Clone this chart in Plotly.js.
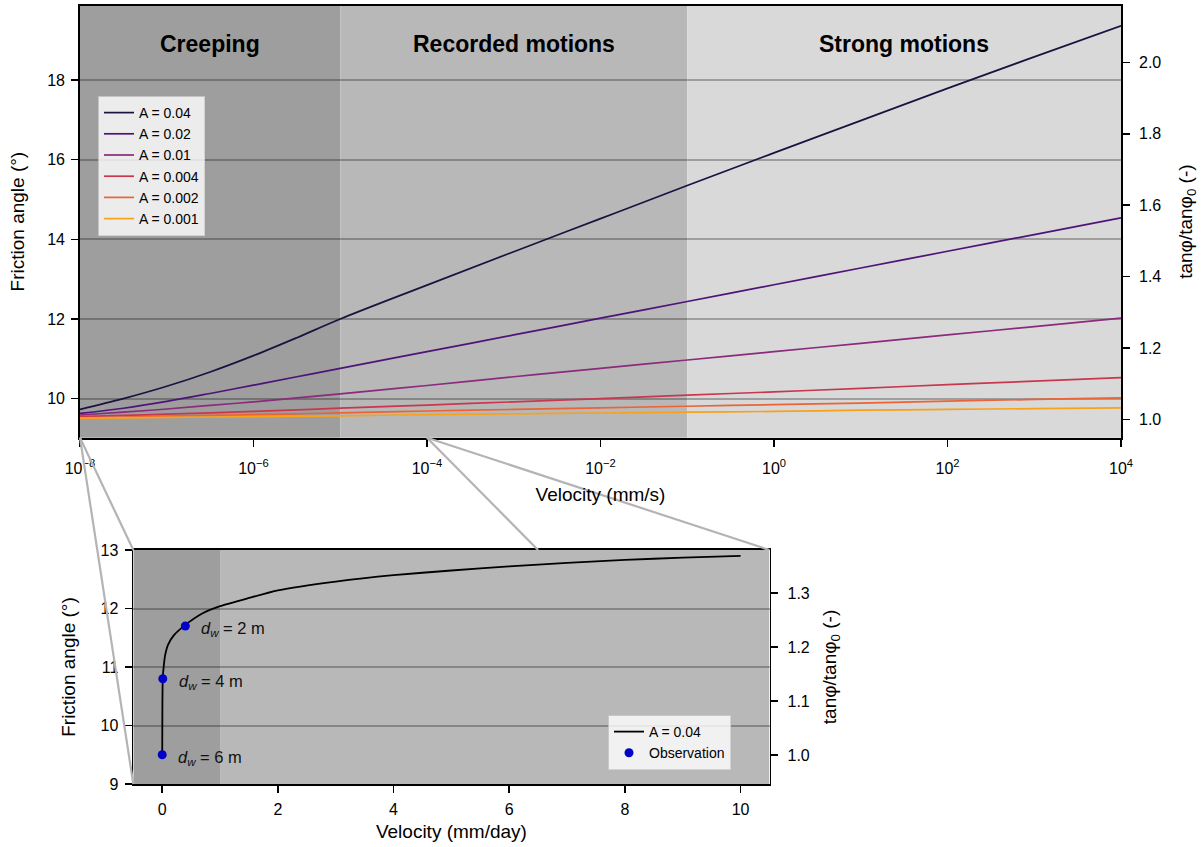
<!DOCTYPE html>
<html>
<head>
<meta charset="utf-8">
<script src="https://cdn.plot.ly/plotly-3.0.1.min.js"></script>
<style>html,body{margin:0;padding:0;background:#fff}</style>
</head>
<body>
<div id="chart" style="width:1203px;height:847px"></div>
<script>
// ---- Rate-dependent friction curves (velocity in mm/s, friction angle in degrees)
const velocity = [1e-8, 3.16e-8, 1e-7, 3.16e-7, 1e-6, 3.16e-6, 1e-5, 1e-4, 1e-3, 1e-2, 1e-1, 1, 10, 100, 1000, 1e4];
const rateLabels = ['A = 0.04', 'A = 0.02', 'A = 0.01', 'A = 0.004', 'A = 0.002', 'A = 0.001'];
const phiA004  = [9.73, 10.0, 10.31, 10.67, 11.08, 11.53, 12.0, 12.85, 13.69, 14.52, 15.35, 16.17, 16.98, 17.79, 18.58, 19.36];
const phiA002  = [9.63, 9.76, 9.93, 10.13, 10.34, 10.55, 10.76, 11.18, 11.60, 12.02, 12.44, 12.86, 13.28, 13.70, 14.12, 14.54];
const phiA001  = [9.59, 9.66, 9.74, 9.83, 9.92, 10.02, 10.12, 10.33, 10.55, 10.76, 10.97, 11.18, 11.39, 11.60, 11.81, 12.02];
const phiA0004 = [9.55, 9.58, 9.61, 9.645, 9.68, 9.72, 9.76, 9.84, 9.92, 10.00, 10.09, 10.17, 10.26, 10.35, 10.44, 10.53];
const phiA0002 = [9.52, 9.54, 9.56, 9.58, 9.60, 9.62, 9.645, 9.69, 9.73, 9.77, 9.81, 9.85, 9.89, 9.94, 9.98, 10.02];
const phiA0001 = [9.51, 9.52, 9.53, 9.54, 9.55, 9.56, 9.57, 9.60, 9.62, 9.64, 9.66, 9.68, 9.71, 9.73, 9.75, 9.77];
const rateColors = ['#1c1240', '#4f1478', '#8c2a7e', '#c9374f', '#ea6436', '#f7a21c'];

// Velocity regimes (mm/s)
const regimeNames = ['Creeping', 'Recorded motions', 'Strong motions'];
const regimeBounds = [1e-8, 1e-5, 1e-1, 1e4];
const regimeFills = ['#9e9e9e', '#b8b8b8', '#d9d9d9'];

// Log-axis tick labels
const velTicks = [1e-8, 1e-6, 1e-4, 1e-2, 1, 1e2, 1e4];
const velTickText = ['10<sup>\u22128</sup>', '10<sup>\u22126</sup>', '10<sup>\u22124</sup>', '10<sup>\u22122</sup>', '10<sup>0</sup>', '10<sup>2</sup>', '10<sup>4</sup>'];

// ---- Zoom on slow velocities (mm/day), A = 0.04
const velDay = [0, 0.001, 0.003, 0.006, 0.012, 0.025, 0.05, 0.1, 0.2, 0.4, 0.7, 1, 1.5, 2, 3, 4, 5, 6, 7, 8, 9, 10];
const phiDay = [9.5, 9.8, 10.3, 10.65, 10.85, 11.0, 11.2, 11.38, 11.54, 11.72, 11.92, 12.04, 12.18, 12.31, 12.46, 12.57, 12.65, 12.72, 12.78, 12.83, 12.87, 12.9];
const obsVel = [0, 0.01, 0.4];
const obsPhi = [9.5, 10.8, 11.7];
const obsDepth = [6, 4, 2];
const creepLimitDay = 1;

// Reference friction angle for the tangent ratio axes
const phi0 = 9.5;
const topPhiRange = [9.02, 19.87];
const botPhiRange = [9, 13];
const logVelRange = [-8, 4];
const dayRange = [-0.5, 10.5];
const zoomSource = [1e-8, 1e-4];

const rad = d => d * Math.PI / 180;
const tanRatio = d => Math.tan(rad(d)) / Math.tan(rad(phi0));

// ---- Page geometry
const W = 1203, H = 847;
const topDom = { x: [80 / W, 1121 / W], y: [1 - 437.7 / H, 1 - 5.5 / H] };
const botDom = { x: [133.3 / W, 769.5 / W], y: [1 - 784 / H, 1 - 550 / H] };

const FONT = 'Liberation Sans, Arial, Helvetica, sans-serif';
const GRID = 'rgba(0,0,0,0.27)';

const series = [phiA004, phiA002, phiA001, phiA0004, phiA0002, phiA0001];
const traces = series.map((ys, i) => ({
  type: 'scatter', mode: 'lines', x: velocity, y: ys, name: rateLabels[i],
  xaxis: 'x', yaxis: 'y', line: { color: rateColors[i], width: 1.7, shape: 'spline', smoothing: 1 },
  legend: 'legend', hoverinfo: 'skip'
}));

// empty traces so the secondary ratio axes are attached to their subplots
traces.push({ type: 'scatter', x: [], y: [], xaxis: 'x', yaxis: 'y2', showlegend: false, hoverinfo: 'skip' });
traces.push({ type: 'scatter', x: [], y: [], xaxis: 'x2', yaxis: 'y4', showlegend: false, hoverinfo: 'skip' });

traces.push({
  type: 'scatter', mode: 'lines', x: velDay, y: phiDay, name: 'A = 0.04',
  xaxis: 'x2', yaxis: 'y3', line: { color: '#000', width: 1.8, shape: 'spline', smoothing: 0.6 },
  legend: 'legend2', hoverinfo: 'skip'
});
traces.push({
  type: 'scatter', mode: 'markers', x: obsVel, y: obsPhi, name: 'Observation',
  xaxis: 'x2', yaxis: 'y3', marker: { color: '#0000c8', size: 9 }, legend: 'legend2', hoverinfo: 'skip'
});

// ---- Shapes: regime shading and zoom connectors
const shapes = [];
for (let i = 0; i < regimeNames.length; i++) {
  shapes.push({
    type: 'rect', xref: 'x', yref: 'y domain', x0: regimeBounds[i], x1: regimeBounds[i + 1], y0: 0, y1: 1,
    fillcolor: regimeFills[i], line: { width: 0 }, layer: 'below'
  });
}
shapes.push({ type: 'rect', xref: 'x2', yref: 'y3 domain', x0: dayRange[0], x1: creepLimitDay, y0: 0, y1: 1,
  fillcolor: regimeFills[0], line: { width: 0 }, layer: 'below' });
shapes.push({ type: 'rect', xref: 'x2', yref: 'y3 domain', x0: creepLimitDay, x1: dayRange[1], y0: 0, y1: 1,
  fillcolor: regimeFills[1], line: { width: 0 }, layer: 'below' });

const topPaperX = v => topDom.x[0] + (Math.log10(v) - logVelRange[0]) / (logVelRange[1] - logVelRange[0]) * (topDom.x[1] - topDom.x[0]);
const srcL = { x: topPaperX(zoomSource[0]), y: topDom.y[0] };
const srcR = { x: topPaperX(zoomSource[1]), y: topDom.y[0] };
const cLine = { color: '#b4b4b4', width: 2.2 };
function connector(p, qx, qy) {
  shapes.push({ type: 'line', xref: 'paper', yref: 'paper', x0: p.x, y0: p.y, x1: qx, y1: qy, line: cLine, layer: 'above' });
}
connector(srcL, botDom.x[0], botDom.y[1]);
connector(srcL, botDom.x[0], botDom.y[0]);
connector(srcR, botDom.x[1], botDom.y[1]);
// the last connector runs behind the zoomed panel: stop it at the panel's top edge
{
  const t = (srcR.y - botDom.y[1]) / (srcR.y - botDom.y[0]);
  connector(srcR, srcR.x + t * (botDom.x[1] - srcR.x), botDom.y[1]);
}

// ---- Annotations: regime names and water depth labels
const annotations = regimeNames.map((name, i) => ({
  xref: 'x', yref: 'paper',
  x: (Math.log10(regimeBounds[i]) + Math.log10(regimeBounds[i + 1])) / 2, y: 1 - 44 / H,
  xanchor: 'center', yanchor: 'middle',
  text: '<b>' + name + '</b>', showarrow: false, font: { family: FONT, size: 23, color: '#000' }
}));
obsDepth.forEach((d, i) => annotations.push({
  xref: 'x2', yref: 'y3', x: obsVel[i], y: obsPhi[i], xanchor: 'left', yanchor: 'middle', xshift: 14, yshift: -3,
  text: '<i>d</i><sub><i>w</i></sub> = ' + d + ' m', showarrow: false, font: { family: FONT, size: 16.5, color: '#111' }
}));

const axisCommon = {
  ticks: 'outside', ticklen: 7, tickwidth: 1.6, tickcolor: '#000',
  showline: true, linecolor: '#000', linewidth: 1.8, zeroline: false,
  tickfont: { family: FONT, size: 16, color: '#000' }, ticklabelstandoff: 3
};
const titleFont = { family: FONT, size: 19, color: '#000' };

const layout = {
  width: W, height: H, autosize: false,
  margin: { l: 0, r: 0, t: 0, b: 0, pad: 0 },
  paper_bgcolor: '#fff', plot_bgcolor: 'rgba(0,0,0,0)',
  font: { family: FONT, color: '#000' },
  xaxis: Object.assign({}, axisCommon, {
    type: 'log', domain: topDom.x, anchor: 'y', range: logVelRange, mirror: true, showgrid: false,
    tickmode: 'array', tickvals: velTicks, ticktext: velTickText, ticklabelstandoff: 8,
    title: { text: 'Velocity (mm/s)', font: titleFont, standoff: 12 }
  }),
  yaxis: Object.assign({}, axisCommon, {
    domain: topDom.y, anchor: 'x', range: topPhiRange, tick0: 10, dtick: 2,
    showgrid: true, gridcolor: GRID, gridwidth: 2,
    title: { text: 'Friction angle (°)', font: titleFont, standoff: 17 }
  }),
  yaxis2: Object.assign({}, axisCommon, {
    overlaying: 'y', side: 'right', anchor: 'x', range: [tanRatio(topPhiRange[0]), tanRatio(topPhiRange[1])],
    tick0: 1, dtick: 0.2, tickformat: '.1f', showgrid: false, ticklabelstandoff: 6,
    title: { text: 'tan\u03c6/tan\u03c6<sub>0</sub> (-)', font: titleFont, standoff: 18 }
  }),
  xaxis2: Object.assign({}, axisCommon, {
    domain: botDom.x, anchor: 'y3', range: dayRange, tick0: 0, dtick: 2, mirror: true, showgrid: false,
    title: { text: 'Velocity (mm/day)', font: titleFont, standoff: 8 }
  }),
  yaxis3: Object.assign({}, axisCommon, {
    domain: botDom.y, anchor: 'x2', range: botPhiRange, tick0: 9, dtick: 1,
    showgrid: true, gridcolor: GRID, gridwidth: 2,
    title: { text: 'Friction angle (°)', font: titleFont, standoff: 20 }
  }),
  yaxis4: Object.assign({}, axisCommon, {
    overlaying: 'y3', side: 'right', anchor: 'x2', range: [tanRatio(botPhiRange[0]), tanRatio(botPhiRange[1])],
    tick0: 1, dtick: 0.1, tickformat: '.1f', showgrid: false, ticklabelstandoff: 6,
    title: { text: 'tan\u03c6/tan\u03c6<sub>0</sub> (-)', font: titleFont, standoff: 14 }
  }),
  legend: {
    x: 98 / W, y: 1 - 96 / H, xanchor: 'left', yanchor: 'top',
    bgcolor: 'rgba(255,255,255,0.8)', bordercolor: 'rgba(204,204,204,0.8)', borderwidth: 1,
    font: { family: FONT, size: 14, color: '#000' }, itemwidth: 30, tracegroupgap: 0
  },
  legend2: {
    x: 608 / W, y: 1 - 715 / H, xanchor: 'left', yanchor: 'top',
    bgcolor: 'rgba(255,255,255,0.8)', bordercolor: 'rgba(204,204,204,0.8)', borderwidth: 1,
    font: { family: FONT, size: 14, color: '#000' }, itemwidth: 30
  },
  shapes: shapes,
  annotations: annotations,
  showlegend: true
};

Plotly.newPlot('chart', traces, layout, { staticPlot: true, displayModeBar: false });
</script>
</body>
</html>
